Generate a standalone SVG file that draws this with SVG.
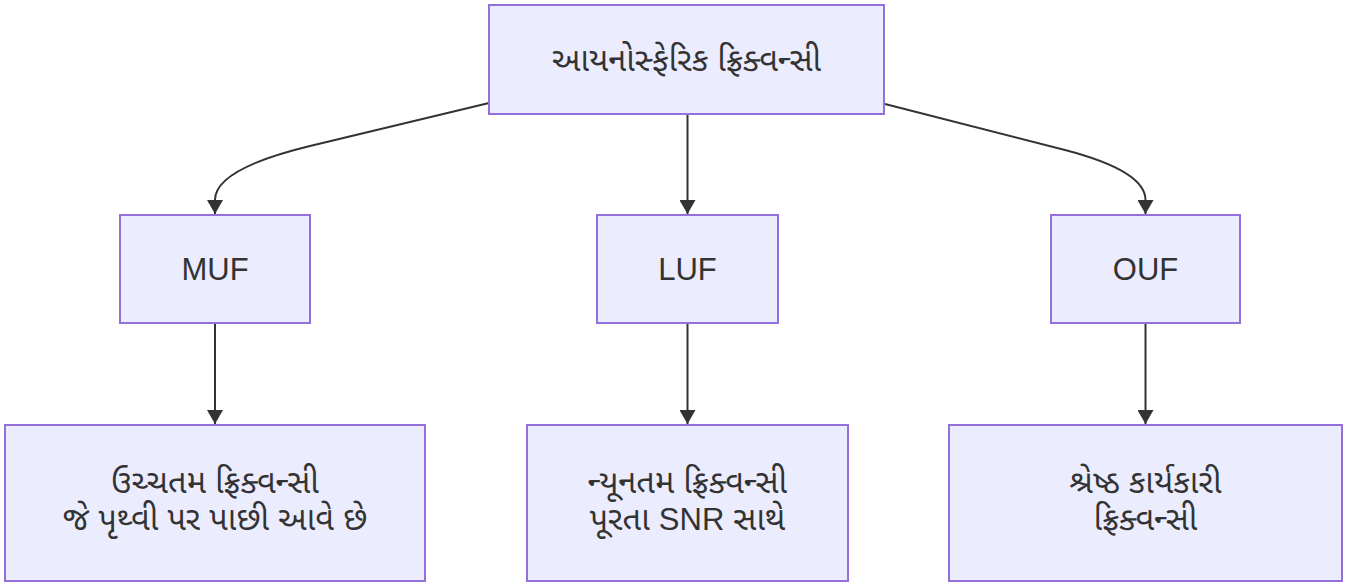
<svg xmlns="http://www.w3.org/2000/svg" width="1348" height="585" viewBox="0 0 1348 585">
  <style>
    .node rect { fill: #ECECFF; stroke: #9370DB; stroke-width: 2; }
    .node text { font-family: "Liberation Sans", "Noto Sans Gujarati", "Noto Sans", Arial, sans-serif; font-size: 31px; fill: #333333; text-anchor: middle; dominant-baseline: central; }
    .node text.gu { font-size: 32.5px; }
    .edge { fill: none; stroke: #333333; stroke-width: 2; }
  </style>
  <defs>
    <marker id="arrow" viewBox="0 0 14 16" refX="14" refY="8" markerUnits="userSpaceOnUse" markerWidth="14" markerHeight="16" orient="auto">
      <path d="M0,0 L14,8 L0,16 z" fill="#333333"/>
    </marker>
  </defs>

  <rect width="1348" height="585" fill="#ffffff"/>

  <g id="connectors">
    <path class="edge" d="M489,103 L310,146 Q215,169 215,200 L215,214" marker-end="url(#arrow)"/>
    <path class="edge" d="M687.5,114 L687.5,214" marker-end="url(#arrow)"/>
    <path class="edge" d="M885,104 L1065,150 Q1145.5,171 1145.5,200 L1145.5,214" marker-end="url(#arrow)"/>
    <path class="edge" d="M215,324 L215,424" marker-end="url(#arrow)"/>
    <path class="edge" d="M687.5,324 L687.5,424" marker-end="url(#arrow)"/>
    <path class="edge" d="M1145.5,324 L1145.5,424" marker-end="url(#arrow)"/>
  </g>

  <g id="node-ionospheric" class="node">
    <rect x="489" y="5" width="395" height="109"/>
    <text class="gu" x="686.5" y="59.5">આયનોસ્ફેરિક ફ્રિક્વન્સી</text>
  </g>

  <g id="node-muf" class="node">
    <rect x="120" y="215" width="190" height="108"/>
    <text x="215" y="269">MUF</text>
  </g>

  <g id="node-luf" class="node">
    <rect x="597" y="215" width="181" height="108"/>
    <text x="687.5" y="269">LUF</text>
  </g>

  <g id="node-ouf" class="node">
    <rect x="1051" y="215" width="189" height="108"/>
    <text x="1145.5" y="269">OUF</text>
  </g>

  <g id="node-muf-desc" class="node">
    <rect x="5" y="425" width="420" height="156"/>
    <text class="gu" x="215" y="482">ઉચ્ચતમ ફ્રિક્વન્સી</text>
    <text class="gu" x="215" y="519">જે પૃથ્વી પર પાછી આવે છે</text>
  </g>

  <g id="node-luf-desc" class="node">
    <rect x="527" y="425" width="321" height="156"/>
    <text class="gu" x="687.5" y="482">ન્યૂનતમ ફ્રિક્વન્સી</text>
    <text class="gu" x="687.5" y="519">પૂરતા <tspan font-size="31">SNR</tspan> સાથે</text>
  </g>

  <g id="node-ouf-desc" class="node">
    <rect x="949" y="425" width="393" height="156"/>
    <text class="gu" x="1145.5" y="482">શ્રેષ્ઠ કાર્યકારી</text>
    <text class="gu" x="1145.5" y="519">ફ્રિક્વન્સી</text>
  </g>
</svg>
